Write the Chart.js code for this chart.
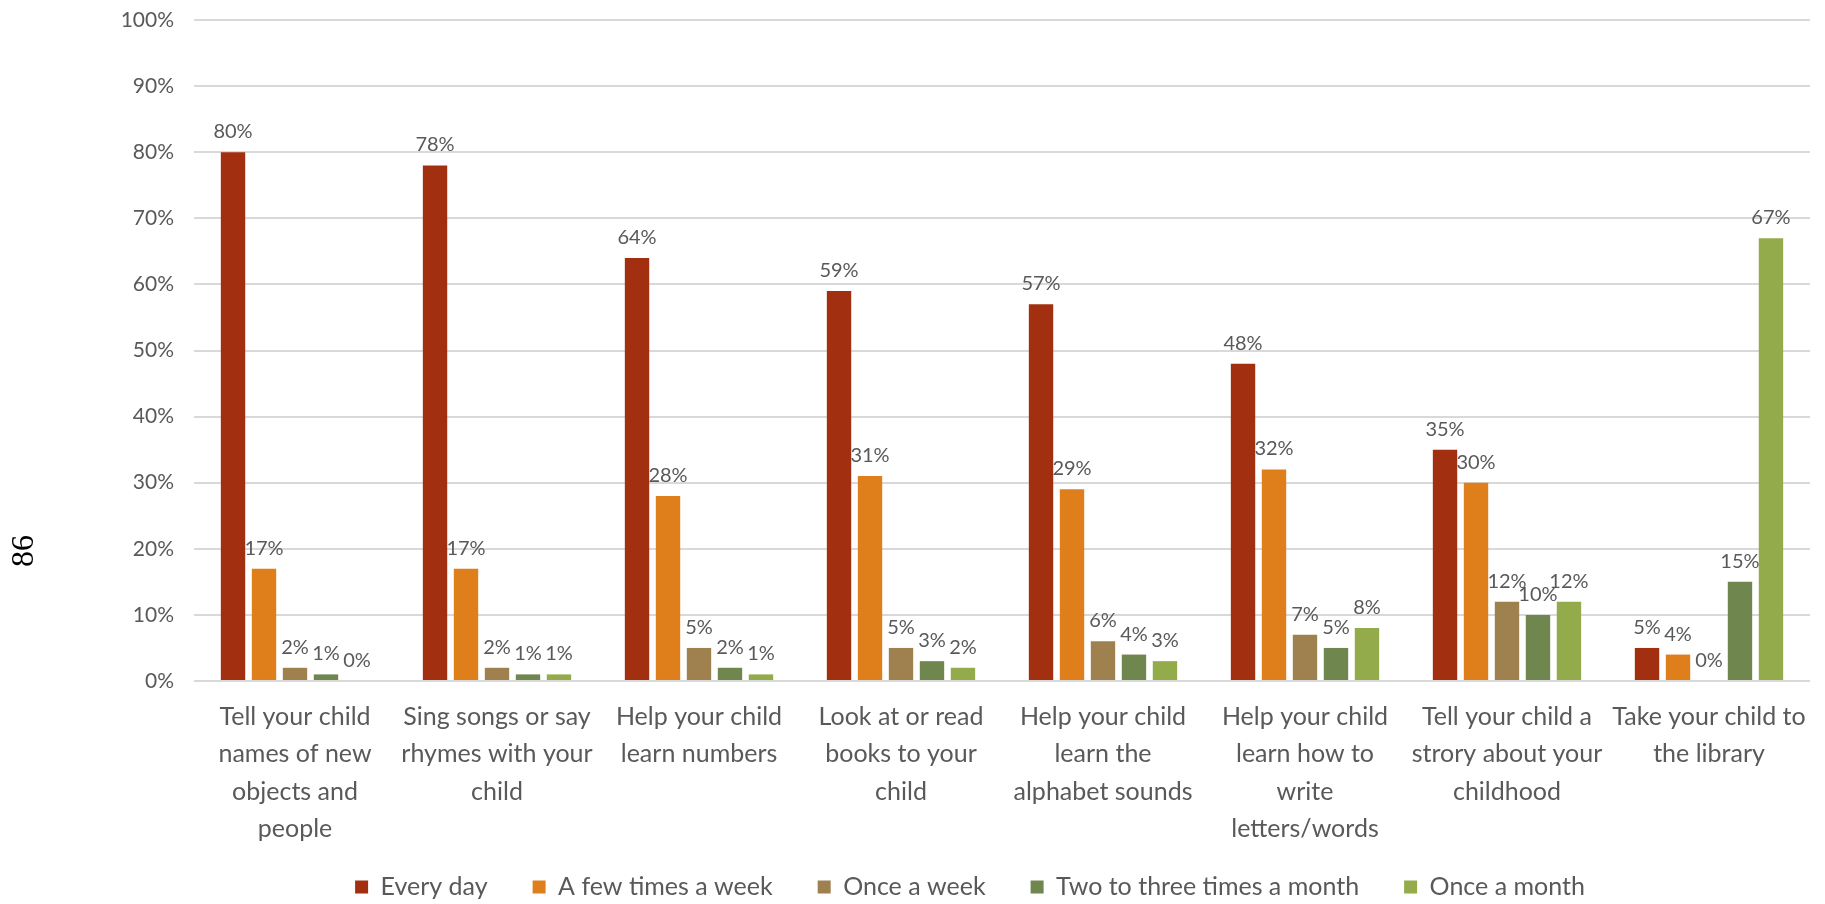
<!DOCTYPE html>
<html>
<head>
<meta charset="utf-8">
<script src="https://cdn.jsdelivr.net/npm/chart.js@4.4.1/dist/chart.umd.min.js"></script>
<style>
  html, body { margin: 0; padding: 0; background: #ffffff; }
  #wrap { position: relative; width: 1825px; height: 904px; }
  canvas { display: block; }
</style>
</head>
<body>
<div id="wrap"><canvas id="c" width="1825" height="904"></canvas></div>
<script>
const categories = [
  ["Tell your child", "names of new", "objects and", "people"],
  ["Sing songs or say", "rhymes with your", "child"],
  ["Help your child", "learn numbers"],
  ["Look at or read", "books to your", "child"],
  ["Help your child", "learn the", "alphabet sounds"],
  ["Help your child", "learn how to", "write", "letters/words"],
  ["Tell your child a", "strory about your", "childhood"],
  ["Take your child to", "the library"]
];
const seriesNames = ["Every day", "A few times a week", "Once a week", "Two to three times a month", "Once a month"];
const everyDay      = [80, 78, 64, 59, 57, 48, 35, 5];
const fewTimesWeek  = [17, 17, 28, 31, 29, 32, 30, 4];
const onceWeek      = [2, 2, 5, 5, 6, 7, 12, 0];
const twoThreeMonth = [1, 1, 2, 3, 4, 5, 10, 15];
const onceMonth     = [0, 1, 1, 2, 3, 8, 12, 67];
const seriesColors = ["#A32F11", "#DF7F1C", "#9F814F", "#70864F", "#93AB4B"];
const pageNumber = "86";

const FONT = "Lato, 'Open Sans', sans-serif";
const TEXT = "#595959";

const valueLabels = {
  id: "valueLabels",
  afterDatasetsDraw(chart) {
    const ctx = chart.ctx;
    ctx.save();
    ctx.font = "20px " + FONT;
    ctx.fillStyle = TEXT;
    ctx.textAlign = "center";
    ctx.textBaseline = "alphabetic";
    chart.data.datasets.forEach((ds, i) => {
      const meta = chart.getDatasetMeta(i);
      meta.data.forEach((bar, j) => {
        ctx.fillText(ds.data[j] + "%", bar.x, bar.y - 14);
      });
    });
    ctx.restore();
  }
};

// nudge the legend row to sit where the reference puts it
const legendNudge = {
  id: "legendNudge",
  afterLayout(chart) {
    const lg = chart.legend;
    if (!lg) return;
    lg.top -= 21.5; lg.bottom -= 21.5;
    lg.left += 10; lg.right += 10;
  }
};

const pageNum = {
  id: "pageNum",
  afterDraw(chart) {
    const ctx = chart.ctx;
    ctx.save();
    ctx.translate(25, 551);
    ctx.rotate(-Math.PI / 2);
    ctx.font = "32px 'Liberation Serif', 'DejaVu Serif', serif";
    ctx.fillStyle = "#000000";
    ctx.textAlign = "center";
    ctx.textBaseline = "middle";
    ctx.fillText(pageNumber, 0, 0);
    ctx.restore();
  }
};

const allSeries = [everyDay, fewTimesWeek, onceWeek, twoThreeMonth, onceMonth];

new Chart(document.getElementById("c"), {
  type: "bar",
  data: {
    labels: categories,
    datasets: allSeries.map((d, i) => ({
      label: seriesNames[i],
      data: d,
      backgroundColor: seriesColors[i],
      borderWidth: 0,
      categoryPercentage: 0.767,
      barPercentage: 0.787
    }))
  },
  options: {
    responsive: false,
    animation: false,
    layout: { autoPadding: false, padding: { left: 110, right: 15, top: 20, bottom: -27 } },
    plugins: {
      legend: {
        position: "bottom",
        labels: {
          font: { family: FONT, size: 25 },
          color: TEXT,
          boxWidth: 13,
          boxHeight: 13,
          padding: 45
        }
      },
      tooltip: { enabled: false }
    },
    scales: {
      x: {
        afterFit(scale) { scale.height = 170; scale.paddingLeft = 0; scale.paddingRight = 0; },
        grid: { display: false, drawTicks: false },
        border: { display: false },
        ticks: {
          color: TEXT,
          font: { family: FONT, size: 25, lineHeight: 1.5 },
          padding: 17,
          maxRotation: 0,
          autoSkip: false
        }
      },
      y: {
        min: 0,
        max: 100,
        afterFit(scale) { scale.width = 84; scale.paddingTop = 0; scale.paddingBottom = 0; },
        grid: { color: "#D9D9D9", lineWidth: 2, drawTicks: false },
        border: { display: false },
        ticks: {
          stepSize: 10,
          color: TEXT,
          font: { family: FONT, size: 21 },
          padding: 20,
          callback: v => v + "%"
        }
      }
    }
  },
  plugins: [valueLabels, legendNudge, pageNum]
});
</script>
</body>
</html>
